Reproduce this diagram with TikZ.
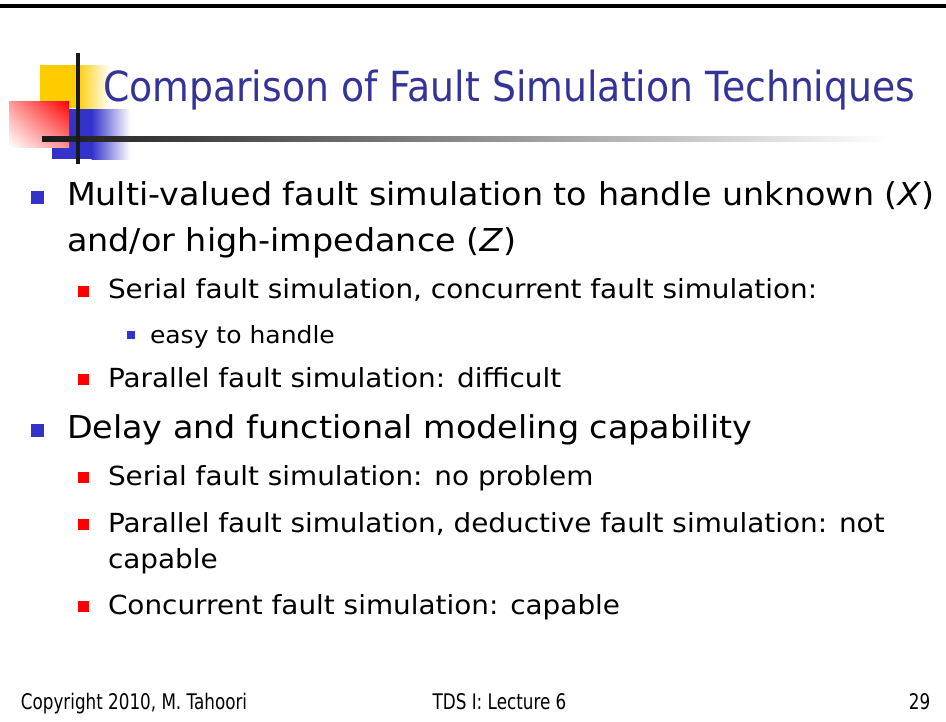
\documentclass[tikz,border=0pt]{standalone}
\usepackage{fontspec}
\usetikzlibrary{shadings}
\setmainfont{DejaVu Sans}
\newfontfamily\titlefont[FakeStretch=0.91]{DejaVu Sans}
\newfontfamily\bodyfont[FakeStretch=1.06]{DejaVu Sans}
\newfontfamily\footfont[FakeStretch=0.78]{DejaVu Sans}
\definecolor{titleblue}{HTML}{333399}
\definecolor{bulblue}{HTML}{3333CC}
\definecolor{bulred}{HTML}{FF0000}
\definecolor{logoyellow}{HTML}{FFCC00}
\definecolor{logoblue}{HTML}{3333CC}
\tikzset{
  txt/.style={anchor=base west, inner sep=0pt, outer sep=0pt, text=black},
  lvlone/.style={txt, font=\bodyfont\fontsize{31.5}{36}\selectfont},
  lvltwo/.style={txt, font=\bodyfont\fontsize{26.3}{30}\selectfont},
  lvlthree/.style={txt, font=\bodyfont\fontsize{23.6}{27}\selectfont},
  foot/.style={anchor=base, inner sep=0pt, font=\footfont\fontsize{21.5}{24}\selectfont},
}
\begin{document}
\begin{tikzpicture}[x=1pt,y=-1pt]
\useasboundingbox (0,0) rectangle (946,721);
\fill[white] (0,0) rectangle (946,721);
% top rule
\fill[black] (0,4) rectangle (946,7.5);
% logo squares
\fill[logoyellow] (40,65) rectangle (77,108);
\shade[left color=logoyellow, right color=white] (76.5,65) rectangle (110,108);
\fill[logoblue] (52,109) rectangle (92,159);
\shade[left color=logoblue, right color=white] (91.5,109) rectangle (130,159);
\shade[upper right=bulred, upper left=bulred!40!white, lower left=white, lower right=bulred!45!white] (9,101) rectangle (69,147);
% logo bars
\shade[left color=black!90, middle color=black!30, right color=white] (42,136.5) rectangle (890,141);
\fill[black!90] (76,53) rectangle (80,164);
% title
\node[txt, text=titleblue, font=\titlefont\fontsize{41.5}{46}\selectfont] (title) at (103,101) {Comparison of Fault Simulation Techniques};
% bullets
\fill[bulblue] (31,191) rectangle (44,204);
\node[lvlone] (l1) at (67,205) {Multi-valued fault simulation to handle unknown (\textit{X})};
\node[lvlone] (l2) at (67,251) {and/or high-impedance (\textit{Z})};
\fill[bulred] (78,286) rectangle (89,297);
\node[lvltwo] (l3) at (108,298) {Serial fault simulation, concurrent fault simulation:};
\fill[bulblue] (127,331) rectangle (135,339);
\node[lvlthree] (l4) at (150,343) {easy to handle};
\fill[bulred] (78,374) rectangle (89,385);
\node[lvltwo] (l5) at (108,387) {Parallel fault simulation: difficult};
\fill[bulblue] (31,424) rectangle (44,437);
\node[lvlone] (l6) at (67,438) {Delay and functional modeling capability};
\fill[bulred] (78,472) rectangle (89,483);
\node[lvltwo] (l7) at (108,485) {Serial fault simulation: no problem};
\fill[bulred] (78,519) rectangle (89,530);
\node[lvltwo] (l8) at (108,532) {Parallel fault simulation, deductive fault simulation: not};
\node[lvltwo] (l9) at (108,568) {capable};
\fill[bulred] (78,601) rectangle (89,612);
\node[lvltwo] (l10) at (108,614) {Concurrent fault simulation: capable};
% footer
\node[foot] (fl) at (134,709) {Copyright 2010, M. Tahoori};
\node[foot] (fc) at (499.5,709) {TDS I: Lecture 6};
\node[foot] (fr) at (919.5,709) {29};
\end{tikzpicture}
\end{document}
